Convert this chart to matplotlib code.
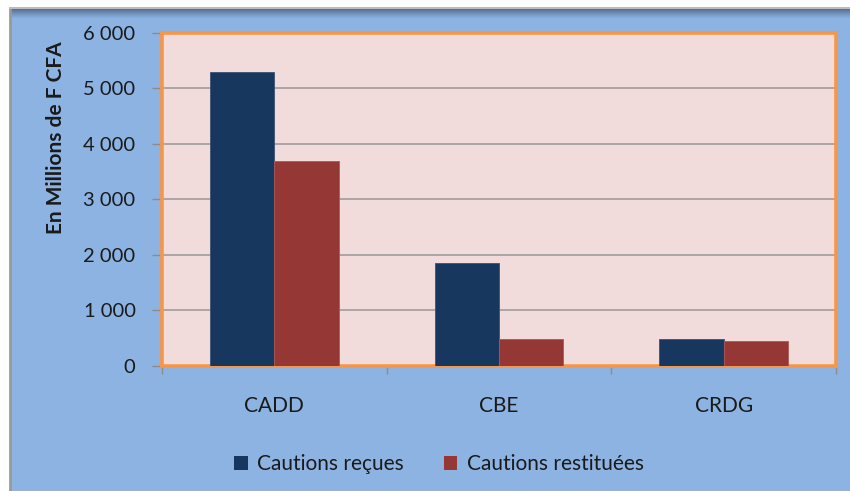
import matplotlib
matplotlib.use("Agg")
import matplotlib.pyplot as plt
from matplotlib.patches import Rectangle, Patch
from matplotlib.ticker import FuncFormatter, FixedLocator
import numpy as np

categories = ["CADD", "CBE", "CRDG"]
cautions_recues = [5290, 1860, 485]
cautions_restituees = [3685, 480, 445]
series_labels = ["Cautions reçues", "Cautions restituées"]
y_ticks = [0, 1000, 2000, 3000, 4000, 5000, 6000]
y_label = "En Millions de F CFA"

NAVY = "#17375E"
BRICK = "#953735"
SKY = "#8DB3E2"
PINK = "#F2DCDB"
ORANGE = "#F79646"
GRID = "#A09C9C"
TEXT = "#1A1A1A"

plt.rcParams["font.family"] = ["Lato", "DejaVu Sans"]

W, H = 850, 491
fig = plt.figure(figsize=(W / 100, H / 100), dpi=100)
fig.patch.set_facecolor("white")

# chart frame: light-blue panel with a thin grey border and a darker top band
fx0, ftop = 10 / W, (H - 8) / H
fig.patches.append(Rectangle((fx0, 0), 1 - fx0, ftop, transform=fig.transFigure,
                             facecolor=SKY, edgecolor="none", zorder=0))
top_c = np.array([0x4A, 0x62, 0x85]) / 255
sky_c = np.array([0x8D, 0xB3, 0xE2]) / 255
n_band = 10
for i in range(n_band):
    t = (i / n_band) ** 0.8
    col = top_c * (1 - t) + sky_c * t
    y1 = (H - 8 - i) / H
    fig.patches.append(Rectangle((fx0, y1 - 1.05 / H), 1 - fx0, 1.05 / H,
                                 transform=fig.transFigure, facecolor=col,
                                 edgecolor="none", zorder=0.5))
fig.lines.append(plt.Line2D([fx0, fx0], [0, ftop], transform=fig.transFigure,
                            color="#9A9A9A", lw=2, zorder=1))
fig.lines.append(plt.Line2D([fx0, 1], [ftop, ftop], transform=fig.transFigure,
                            color="#BDBDBD", lw=1.5, zorder=1))

ax = fig.add_axes([162 / W, (H - 365.7) / H, (836 - 162) / W, (365.7 - 33) / H])
ax.set_zorder(5)
ax.set_facecolor(PINK)

x = np.arange(len(categories))
bw = 1 / 3.5
ax.bar(x - bw / 2, cautions_recues, width=bw, color=NAVY,
       edgecolor="#3A5375", linewidth=0.6, zorder=3)
ax.bar(x + bw / 2, cautions_restituees, width=bw, color=BRICK,
       edgecolor="#A85A58", linewidth=0.6, zorder=3)

ax.set_xlim(-0.5, len(categories) - 0.5)
ax.set_ylim(0, 6000)
ax.yaxis.set_major_locator(FixedLocator(y_ticks))
ax.yaxis.set_major_formatter(FuncFormatter(lambda v, p: f"{int(v):,}".replace(",", " ")))
ax.grid(axis="y", color=GRID, lw=1.2, zorder=1)
ax.set_axisbelow(True)

ax.set_xticks(x)
ax.set_xticklabels(categories)
ax.set_xticks(np.arange(-0.5, len(categories)), minor=True)
ax.tick_params(axis="x", which="major", length=0, pad=22, labelsize=15, labelcolor=TEXT)
ax.tick_params(axis="x", which="minor", length=6, width=1, color="#8C8C8C")
ax.tick_params(axis="y", length=7, width=1, color="#8C8C8C", pad=12,
               labelsize=14.5, labelcolor=TEXT)

for s in ax.spines.values():
    s.set_color(ORANGE)
    s.set_linewidth(2.6)

fig.text(56 / W, (H - 138) / H, y_label, rotation=90, ha="center", va="center",
         fontsize=15, fontweight="bold", color=TEXT)

handles = [Patch(facecolor=NAVY, edgecolor="none"), Patch(facecolor=BRICK, edgecolor="none")]
fig.legend(handles, series_labels, loc="center", bbox_to_anchor=(439 / W, (H - 464) / H),
           ncol=2, frameon=False, fontsize=15, handlelength=0.65, handleheight=0.65,
           handletextpad=0.45, columnspacing=1.9, labelcolor=TEXT)

fig.savefig("out.png", dpi=100, facecolor=fig.get_facecolor())
